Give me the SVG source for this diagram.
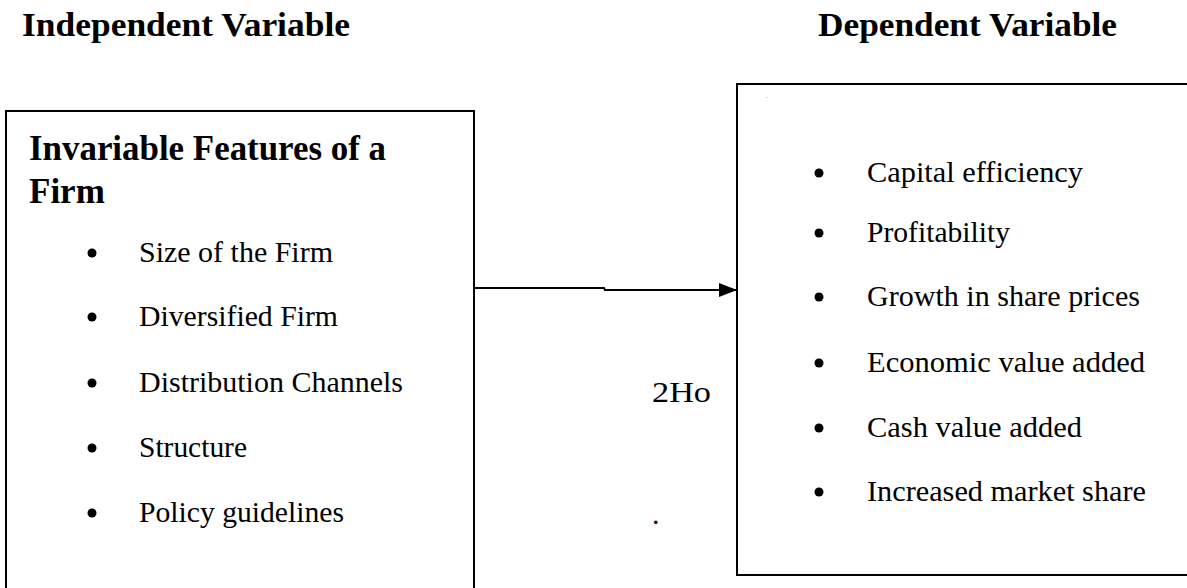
<svg xmlns="http://www.w3.org/2000/svg" width="1187" height="588" viewBox="0 0 1187 588">
<defs>
<style>
text{font-family:'Liberation Serif','Times New Roman',Times,serif;fill:#000}
.hdr{font-weight:bold;font-size:33px}
.ttl{font-weight:bold;font-size:35px}
.item{font-size:30px}
.box{fill:#fff;stroke:#000;stroke-width:2}
.conn{fill:none;stroke:#000;stroke-width:2}
</style>
<marker id="arr" markerWidth="18" markerHeight="14" refX="17" refY="7" orient="auto" markerUnits="userSpaceOnUse" viewBox="0 0 18 14">
<path d="M0,0 L18,7 L0,14 Z" fill="#000"/>
</marker>
</defs>
<rect width="1187" height="588" fill="#fff"/>
<g id="headers">
<text class="hdr" x="22" y="36" textLength="328" lengthAdjust="spacingAndGlyphs">Independent Variable</text>
<text class="hdr" x="818" y="36" textLength="299" lengthAdjust="spacingAndGlyphs">Dependent Variable</text>
</g>
<g id="node-independent">
<rect class="box" x="6" y="111" width="468" height="490"/>
<text class="ttl" x="29" y="160" textLength="357" lengthAdjust="spacingAndGlyphs">Invariable Features of a</text>
<text class="ttl" x="29" y="203">Firm</text>
<g>
<circle cx="92" cy="253" r="4.5"/><text class="item" x="139" y="262" textLength="194" lengthAdjust="spacingAndGlyphs">Size of the Firm</text>
<circle cx="92" cy="317" r="4.5"/><text class="item" x="139" y="326" textLength="199" lengthAdjust="spacingAndGlyphs">Diversified Firm</text>
<circle cx="92" cy="383" r="4.5"/><text class="item" x="139" y="392" textLength="264" lengthAdjust="spacingAndGlyphs">Distribution Channels</text>
<circle cx="92" cy="448" r="4.5"/><text class="item" x="139" y="457" textLength="108" lengthAdjust="spacingAndGlyphs">Structure</text>
<circle cx="92" cy="513" r="4.5"/><text class="item" x="139" y="522" textLength="205" lengthAdjust="spacingAndGlyphs">Policy guidelines</text>
</g>
</g>
<g id="node-dependent">
<rect class="box" x="737" y="84" width="460" height="491"/>
<text x="766" y="98" font-size="8" style="fill:#9aa">.</text>
<g>
<circle cx="819" cy="173" r="4.5"/><text class="item" x="867" y="182" textLength="216" lengthAdjust="spacingAndGlyphs">Capital efficiency</text>
<circle cx="819" cy="233" r="4.5"/><text class="item" x="867" y="242" textLength="143" lengthAdjust="spacingAndGlyphs">Profitability</text>
<circle cx="819" cy="297" r="4.5"/><text class="item" x="867" y="306" textLength="273" lengthAdjust="spacingAndGlyphs">Growth in share prices</text>
<circle cx="819" cy="363" r="4.5"/><text class="item" x="867" y="372" textLength="278" lengthAdjust="spacingAndGlyphs">Economic value added</text>
<circle cx="819" cy="428" r="4.5"/><text class="item" x="867" y="437" textLength="215" lengthAdjust="spacingAndGlyphs">Cash value added</text>
<circle cx="819" cy="492" r="4.5"/><text class="item" x="867" y="501" textLength="279" lengthAdjust="spacingAndGlyphs">Increased market share</text>
</g>
</g>
<g id="connectors">
<path class="conn" d="M474,288 L604,288 L605,290 L736,290" marker-end="url(#arr)"/>
</g>
<g id="labels">
<text class="item" x="652" y="402" textLength="59" lengthAdjust="spacingAndGlyphs">2Ho</text>
<text class="item" x="652" y="524">.</text>
</g>
</svg>
